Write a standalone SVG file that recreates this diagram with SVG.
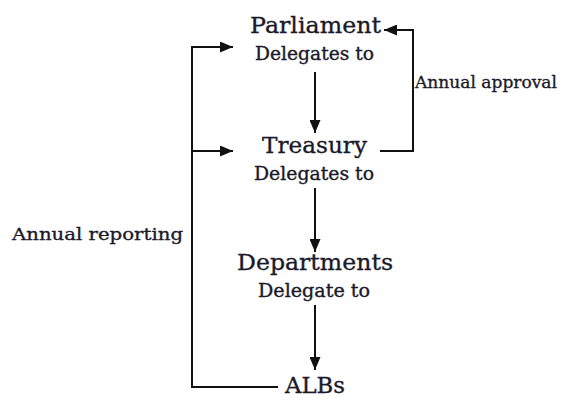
<svg xmlns="http://www.w3.org/2000/svg" width="586" height="401" viewBox="0 0 586 401">
<defs>
<marker id="ah" viewBox="0 0 13 11" refX="13" refY="5.5" markerWidth="13" markerHeight="11" markerUnits="userSpaceOnUse" orient="auto">
<path d="M0,0 L13,5.5 L0,11 Z" fill="#111"/>
</marker>
<style>
text{font-family:"DejaVu Serif","Liberation Serif",serif;fill:#1a1a2a;stroke:#1a1a2a;stroke-width:0.35px}
.n{font-size:23px;text-anchor:middle}
.d{font-size:18px;text-anchor:middle}
.l{font-size:17px}
.c{fill:none;stroke:#111;stroke-width:2}
</style>
</defs>
<rect width="586" height="401" fill="#fff"/>
<g id="parliament">
<text class="n" x="315.5" y="33" textLength="131" lengthAdjust="spacingAndGlyphs">Parliament</text>
<text class="d" x="314.5" y="60" textLength="119" lengthAdjust="spacingAndGlyphs">Delegates to</text>
</g>
<g id="treasury">
<text class="n" x="314.5" y="153" textLength="105" lengthAdjust="spacingAndGlyphs">Treasury</text>
<text class="d" x="314" y="180" textLength="120" lengthAdjust="spacingAndGlyphs">Delegates to</text>
</g>
<g id="departments">
<text class="n" x="315" y="270" textLength="156" lengthAdjust="spacingAndGlyphs">Departments</text>
<text class="d" x="314" y="297" textLength="112" lengthAdjust="spacingAndGlyphs">Delegate to</text>
</g>
<g id="albs">
<text class="n" x="315" y="393" textLength="60" lengthAdjust="spacingAndGlyphs">ALBs</text>
</g>
<g id="labels">
<text class="l" x="12" y="240" textLength="171" lengthAdjust="spacingAndGlyphs">Annual reporting</text>
<text class="l" x="415" y="88" textLength="142" lengthAdjust="spacingAndGlyphs">Annual approval</text>
</g>
<g id="connectors">
<path class="c" d="M315,72 V133" marker-end="url(#ah)"/>
<path class="c" d="M315,188 V252" marker-end="url(#ah)"/>
<path class="c" d="M315,305 V370" marker-end="url(#ah)"/>
<path class="c" d="M278,387 H192 V47 H233" marker-end="url(#ah)"/>
<path class="c" d="M192,151 H233" marker-end="url(#ah)"/>
<path class="c" d="M380,151 H413 V30 H384" marker-end="url(#ah)"/>
</g>
</svg>
